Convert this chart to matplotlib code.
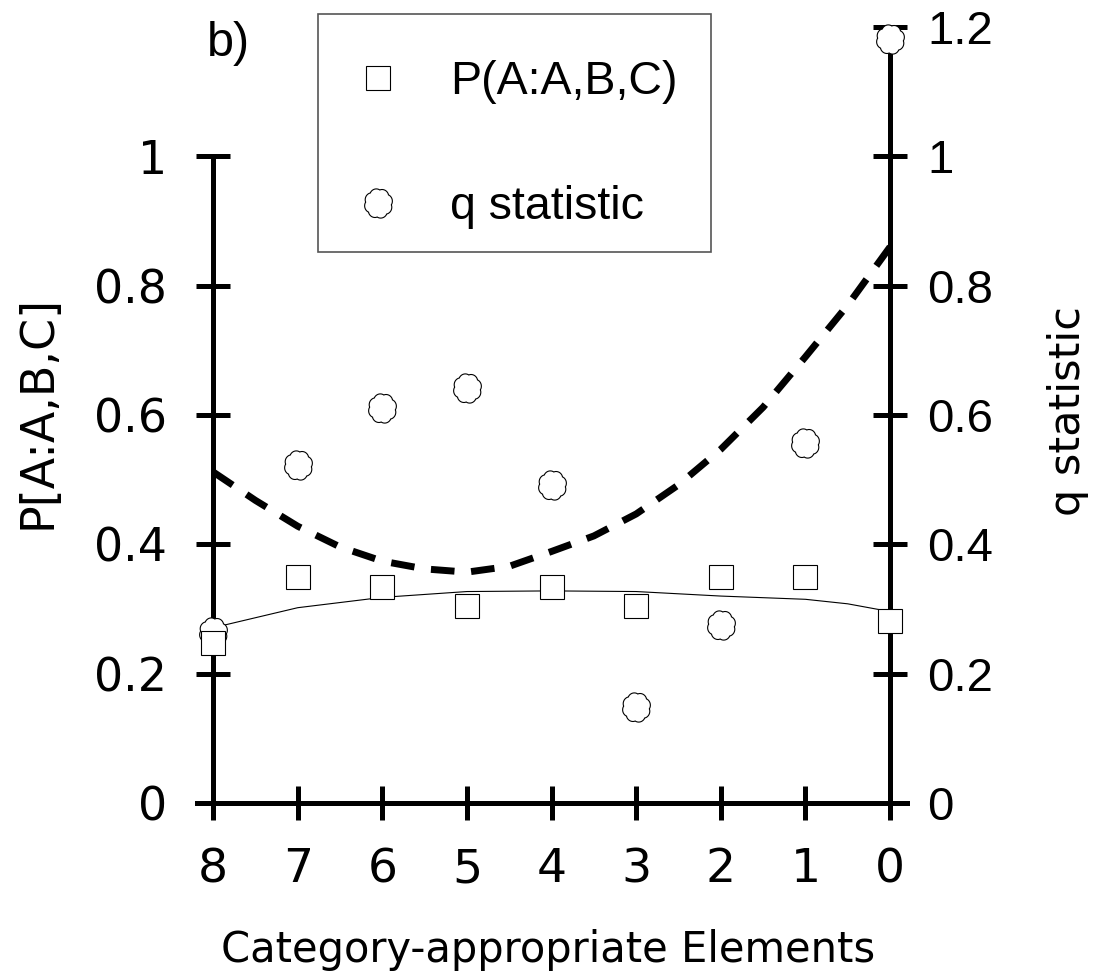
import numpy as np
import matplotlib
matplotlib.use("Agg")
import matplotlib.pyplot as plt
from matplotlib.path import Path
from matplotlib.lines import Line2D
from matplotlib.patches import Rectangle

# data
elements = [8, 7, 6, 5, 4, 3, 2, 1, 0]
p_abc = [0.248, 0.350, 0.334, 0.305, 0.334, 0.305, 0.350, 0.350, 0.282]
q_stat = [0.265, 0.522, 0.611, 0.641, 0.492, 0.149, 0.276, 0.557, 1.181]

# fitted curves
q_fit_x = [8, 7.5, 7, 6.5, 6, 5.5, 5, 4.5, 4, 3.5, 3, 2.5, 2, 1.5, 1, 0.5, 0]
q_fit = [0.512, 0.468, 0.428, 0.396, 0.374, 0.362, 0.357, 0.366, 0.389,
         0.413, 0.447, 0.492, 0.547, 0.612, 0.690, 0.770, 0.860]
p_fit_x = [8, 7, 6, 5, 4, 3, 2, 1, 0.5, 0]
p_fit = [0.271, 0.302, 0.318, 0.327, 0.328, 0.327, 0.320, 0.315, 0.308, 0.296]

left_ticks = [0, 0.2, 0.4, 0.6, 0.8, 1]
left_labels = ["0", "0.2", "0.4", "0.6", "0.8", "1"]
right_ticks = [0, 0.2, 0.4, 0.6, 0.8, 1, 1.2]
right_labels = ["0", "0.2", "0.4", "0.6", "0.8", "1", "1.2"]

# scalloped "cloud" marker used for the q statistic
t = np.linspace(0, 2 * np.pi, 241)
r = 0.90 + 0.10 * np.abs(np.sin(4 * t + np.pi / 8)) ** 0.7
cloud = Path(np.column_stack([0.95 * r * np.cos(t), r * np.sin(t)]), closed=True)

plt.rcParams['lines.scale_dashes'] = False
W, H = 1095, 977
fig = plt.figure(figsize=(W / 100, H / 100), dpi=100)
ax = fig.add_axes([197 / W, 1 - 803 / H, 710 / W, 776 / H])
ax.set_xlim(8.19, -0.2)
ax.set_ylim(0, 1.2)
ax.spines['top'].set_visible(False)
ax.spines['right'].set_visible(False)
ax.spines['left'].set_position(('data', 8))
ax.spines['left'].set_bounds(0, 1)
for s in ['left', 'bottom']:
    ax.spines[s].set_linewidth(3.6)
ax.set_yticks(left_ticks, left_labels)
ax.set_xticks(elements, [str(e) for e in elements])
ax.tick_params(axis='y', direction='inout', length=24, width=3.6, pad=21, labelsize=33)
ax.tick_params(axis='x', direction='inout', length=24, width=3.6, pad=20, labelsize=34)

ax2 = ax.twinx()
ax2.set_ylim(0, 1.2)
for s in ['left', 'top', 'bottom']:
    ax2.spines[s].set_visible(False)
ax2.spines['right'].set_position(('data', 0))
ax2.spines['right'].set_bounds(0, 1.2)
ax2.spines['right'].set_linewidth(3.6)
ax2.set_yticks(right_ticks, right_labels)
ax2.tick_params(axis='y', direction='inout', length=24, width=3.6, pad=15, labelsize=34)
for lab in ax2.get_yticklabels():
    lab.set_fontfamily('Liberation Sans')

ax2.plot(p_fit_x, p_fit, color='black', lw=0.8, zorder=2)
ax2.plot(q_fit_x, q_fit, color='black', lw=5, dashes=(17, 12),
         dash_capstyle='butt', zorder=2)
ax2.plot(elements, q_stat, ls='none', marker=cloud, ms=21, mfc='white',
         mec='black', mew=0.8, zorder=3, clip_on=False)
ax2.plot(elements, p_abc, ls='none', marker='s', ms=17, mfc='white',
         mec='black', mew=0.8, zorder=4, clip_on=False)

# legend: frame drawn separately so the padding can be uneven like the original
fig.add_artist(Rectangle((318 / W, 1 - 252 / H), 393 / W, 238 / H,
                         transform=fig.transFigure, fill=False,
                         edgecolor='#555555', linewidth=1.2))
handles = [Line2D([], [], ls='none', marker='s', ms=17, mfc='white', mec='black', mew=0.8),
           Line2D([], [], ls='none', marker=cloud, ms=21, mfc='white', mec='black', mew=0.8)]
fig.legend(handles, ['P(A:A,B,C)', 'q statistic'], loc='upper left',
           bbox_to_anchor=(355 / W, 1 - 60 / H), bbox_transform=fig.transFigure,
           prop={'family': 'Liberation Sans', 'size': 33.5}, frameon=False,
           borderaxespad=0, borderpad=0, labelspacing=1.75,
           handlelength=1.0, handletextpad=1.04, numpoints=1)

fig.text(207 / W, 1 - 21 / H, 'b)', ha='left', va='top', fontsize=35,
         family='Liberation Sans')
fig.text(548 / W, 1 - 950 / H, 'Category-appropriate Elements', ha='center',
         va='center', fontsize=30)
fig.text(38 / W, 1 - 412 / H, 'P[A:A,B,C]', ha='center', va='center',
         rotation=90, fontsize=33)
fig.text(1068 / W, 1 - 411 / H, 'q statistic', ha='center', va='center',
         rotation=90, fontsize=31)

plt.savefig('out.png', dpi=100)
plt.close('all')
